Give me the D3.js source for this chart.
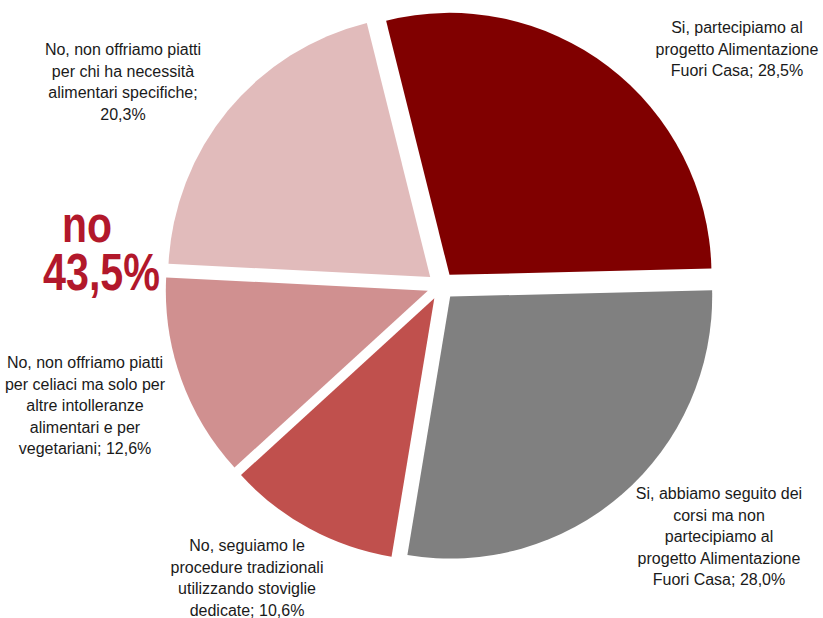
<!DOCTYPE html>
<html>
<head>
<meta charset="utf-8">
<script src="https://cdn.jsdelivr.net/npm/d3@7"></script>
<style>
  html, body { margin: 0; padding: 0; background: #fff; }
  svg { display: block; }
</style>
</head>
<body>
<svg id="chart" width="823" height="618"></svg>
<script>
// ---- data ----
const categories = [
  "Si, partecipiamo al progetto Alimentazione Fuori Casa",
  "Si, abbiamo seguito dei corsi ma non partecipiamo al progetto Alimentazione Fuori Casa",
  "No, seguiamo le procedure tradizionali utilizzando stoviglie dedicate",
  "No, non offriamo piatti per celiaci ma solo per altre intolleranze alimentari e per vegetariani",
  "No, non offriamo piatti per chi ha necessità alimentari specifiche"
];
const values = [28.5, 28.0, 10.6, 12.6, 20.3];
const colors = ["#800000", "#808080", "#C0504D", "#D09090", "#E1BBBB"];
// label text broken in lines (last line receives the value)
const labelLines = [
  ["Si, partecipiamo al", "progetto Alimentazione", "Fuori Casa; "],
  ["Si, abbiamo seguito dei", "corsi ma non", "partecipiamo al", "progetto Alimentazione", "Fuori Casa; "],
  ["No, seguiamo le", "procedure tradizionali", "utilizzando stoviglie", "dedicate; "],
  ["No, non offriamo piatti", "per celiaci ma solo per", "altre intolleranze", "alimentari e per", "vegetariani; "],
  ["No, non offriamo piatti", "per chi ha necessità", "alimentari specifiche;", ""]
];
const summaryWord = "no";
const summaryValue = 43.5;

// ---- layout ----
const W = 823, H = 618;
const cx = 441, cy = 286, radius = 262, explode = 14;
const startDeg = -14;
// label anchor (center x, first baseline y)
const labelPos = [
  [737, 33], [719, 499], [247, 551], [85, 368], [123, 55]
];
const lineH = 21.6;

const fmt = v => d3.format(".1f")(v).replace(".", ",") + "%";

const svg = d3.select("#chart");
const g = svg.append("g").attr("transform", `translate(${cx},${cy})`);

const pie = d3.pie().sort(null).value(d => d)
  .startAngle(startDeg * Math.PI / 180)
  .endAngle((startDeg + 360) * Math.PI / 180);
const arcs = pie(values);
const arc = d3.arc().innerRadius(0).outerRadius(radius);

g.selectAll("path.slice").data(arcs).join("path")
  .attr("class", "slice")
  .attr("d", arc)
  .attr("fill", (d, i) => colors[i])
  .attr("transform", d => {
    const a = (d.startAngle + d.endAngle) / 2;
    return `translate(${explode * Math.sin(a)},${-explode * Math.cos(a)})`;
  });

// labels
const lab = svg.append("g")
  .attr("font-family", "'Liberation Sans', Arial, sans-serif")
  .attr("font-size", 16)
  .attr("fill", "#1a1a1a")
  .attr("text-anchor", "middle");

labelLines.forEach((lines, i) => {
  const t = lab.append("text");
  const full = lines.slice();
  if (full[full.length - 1] === "") full[full.length - 1] = fmt(values[i]);
  else full[full.length - 1] = full[full.length - 1] + fmt(values[i]);
  full.forEach((ln, k) => {
    t.append("tspan")
      .attr("x", labelPos[i][0])
      .attr("y", labelPos[i][1] + k * lineH)
      .text(ln);
  });
});

// summary "no 43,5%" as one text block
const sum = svg.append("text")
  .attr("font-family", "'Liberation Sans Narrow', 'Arial Narrow', 'Liberation Sans', Arial, sans-serif")
  .attr("font-weight", "bold")
  .attr("font-size", 52)
  .attr("fill", "#B2182B")
  .attr("text-anchor", "middle");
sum.append("tspan").attr("x", 87).attr("y", 242)
  .attr("textLength", 50).attr("lengthAdjust", "spacingAndGlyphs")
  .text(summaryWord);
sum.append("tspan").attr("x", 101.5).attr("y", 290)
  .attr("textLength", 117).attr("lengthAdjust", "spacingAndGlyphs")
  .text(fmt(summaryValue));
</script>
</body>
</html>
